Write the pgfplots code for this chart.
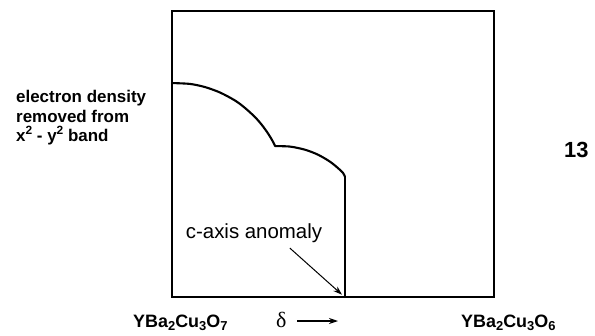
\documentclass[border=0pt]{standalone}
\usepackage{pgfplots}
\pgfplotsset{compat=1.18}
\usetikzlibrary{arrows.meta}
\usepackage{fontspec}
\setmainfont{Liberation Sans}
\newfontfamily\seriffont{Liberation Serif}
\newcommand\sub[1]{\raisebox{-0.32ex}{\fontsize{13}{13}\selectfont #1}}
\newcommand\super[1]{\raisebox{0.75ex}{\fontsize{12}{12}\selectfont #1}}
\begin{document}
\begin{tikzpicture}[x=1bp,y=1bp]
\path (0,0) rectangle (595,335);
\begin{axis}[
  at={(172bp,38bp)}, anchor=south west,
  width=322bp, height=286bp, scale only axis,
  xmin=0, xmax=1, ymin=0, ymax=1,
  xtick=\empty, ytick=\empty,
  axis line style={line width=2.3bp, black},
  clip=false,
]
\addplot[line width=2.1bp, black, smooth, tension=0.5, line cap=round] coordinates {
(0,0.748) (0.0559,0.745) (0.1025,0.734) (0.1491,0.715) (0.1957,0.687) (0.2267,0.661) (0.2578,0.629) (0.2795,0.601) (0.2981,0.572) (0.3106,0.549) (0.3199,0.529)
};
\addplot[line width=2.1bp, black, smooth, tension=0.5, line cap=round] coordinates {
(0.3199,0.5276) (0.3665,0.5259) (0.4130,0.5150) (0.4534,0.4976) (0.4907,0.4731) (0.5155,0.4507) (0.5311,0.4339) (0.5373,0.4200)
};
\addplot[line width=2.1bp, black, line cap=round] coordinates {(0.5373,0.4200) (0.5373,0)};
\draw[line width=1bp, -{Stealth[length=9bp,width=6bp]}] (axis cs:0.366,0.171) -- (axis cs:0.528,0.008);
\end{axis}
% left text
\node[anchor=base west, inner sep=0, font=\bfseries\fontsize{17}{19}\selectfont] at (16,335-102) {electron density};
\node[anchor=base west, inner sep=0, font=\bfseries\fontsize{17}{19}\selectfont] at (16,335-122) {removed from};
\node[anchor=base west, inner sep=0, font=\bfseries\fontsize{17}{19}\selectfont] at (16,335-141) {x\super{2} - y\super{2} band};
% right number
\node[anchor=base west, inner sep=0, font=\bfseries\fontsize{22}{24}\selectfont] at (564,335-157) {13};
% annotation
\node[anchor=base, inner sep=0, font=\fontsize{20.5}{22}\selectfont] at (254,335-238) {c-axis anomaly};
% bottom labels
\node[anchor=base west, inner sep=0, font=\bfseries\fontsize{18}{20}\selectfont] at (133,335-327) {YBa\sub{2}Cu\sub{3}O\sub{7}};
\node[anchor=base west, inner sep=0, font=\seriffont\fontsize{22}{24}\selectfont] at (276,335-327) {δ};
\draw[line width=1.1bp, -{Stealth[length=9bp,width=6bp]}] (297,335-321) -- (338,335-321);
\node[anchor=base west, inner sep=0, font=\bfseries\fontsize{18}{20}\selectfont] at (461,335-327) {YBa\sub{2}Cu\sub{3}O\sub{6}};
\end{tikzpicture}
\end{document}
